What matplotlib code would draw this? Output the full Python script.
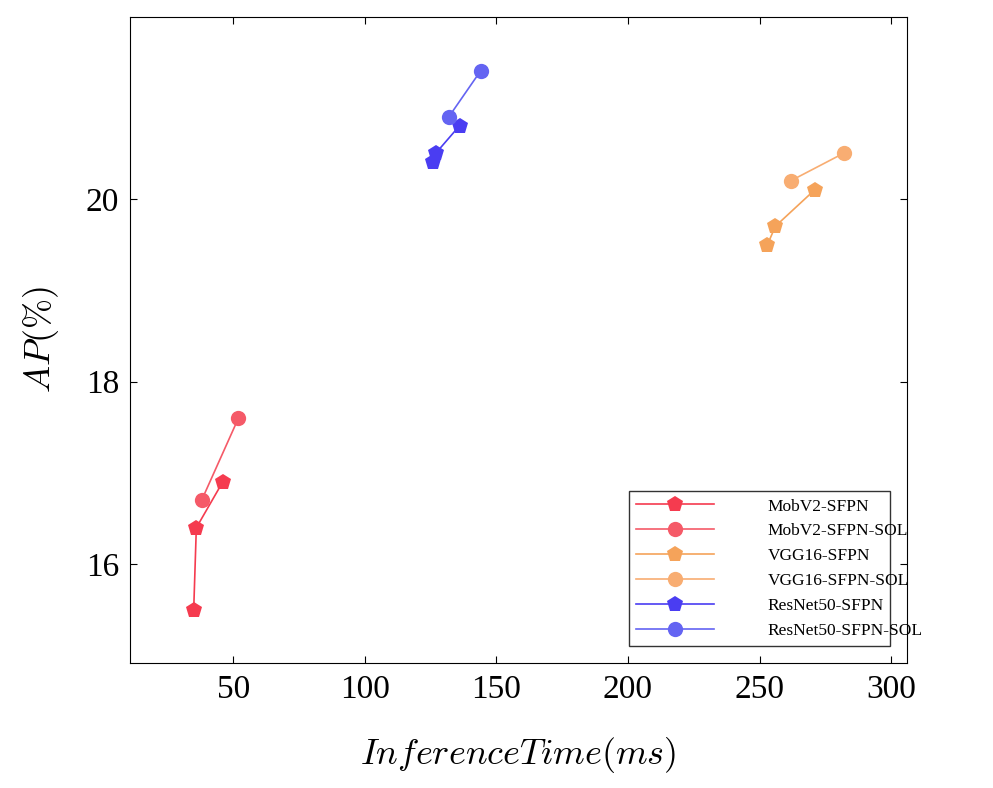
import matplotlib
matplotlib.use("Agg")
import matplotlib.pyplot as plt

plt.rcParams['font.family'] = ['Liberation Serif', 'DejaVu Serif']
plt.rcParams['mathtext.fontset'] = 'cm'

mob_x = [35, 36, 46]; mob_y = [15.5, 16.4, 16.9]
mobs_x = [38, 52]; mobs_y = [16.7, 17.6]
vgg_x = [253, 256, 271]; vgg_y = [19.5, 19.7, 20.1]
vggs_x = [262, 282]; vggs_y = [20.2, 20.5]
res_x = [126, 127, 136]; res_y = [20.4, 20.5, 20.8]
ress_x = [132, 144]; ress_y = [20.9, 21.4]

series = [
    ("MobV2-SFPN", mob_x, mob_y, 'p', '#f53b4f'),
    ("MobV2-SFPN-SOL", mobs_x, mobs_y, 'o', '#f55a68'),
    ("VGG16-SFPN", vgg_x, vgg_y, 'p', '#f5a35a'),
    ("VGG16-SFPN-SOL", vggs_x, vggs_y, 'o', '#f8ad72'),
    ("ResNet50-SFPN", res_x, res_y, 'p', '#4a3df2'),
    ("ResNet50-SFPN-SOL", ress_x, ress_y, 'o', '#6464f2'),
]

fig = plt.figure(figsize=(9.93, 7.88), dpi=100)
ax = fig.add_axes([130/993, 1-663/788, 777/993, 646/788])
for name, x, y, m, c in series:
    ax.plot(x, y, marker=m, color=c, lw=1.2, ms=11 if m == 'o' else 12,
            markeredgewidth=0, label=name)
ax.set_xlim(10.8, 306)
ax.set_ylim(14.92, 21.99)
ax.set_xticks([50, 100, 150, 200, 250, 300])
ax.set_yticks([16, 18, 20])
ax.tick_params(direction='in', labelsize=24, top=True, right=True, length=5, pad=8)
ax.set_xlabel(r'$InferenceTime(ms)$', fontsize=26, labelpad=22)
ax.set_ylabel(r'$AP(\%)$', fontsize=26, labelpad=18)
leg = ax.legend(loc='lower right', fontsize=12.5, frameon=True, fancybox=False,
                edgecolor='black', borderaxespad=1.0, handlelength=4.5,
                labelspacing=0.5, alignment='center')
for t in leg.get_texts():
    t.set_ha('center')
    t.set_position((40, 0))
leg.get_frame().set_linewidth(1)
fig.savefig('out.png', dpi=100)
